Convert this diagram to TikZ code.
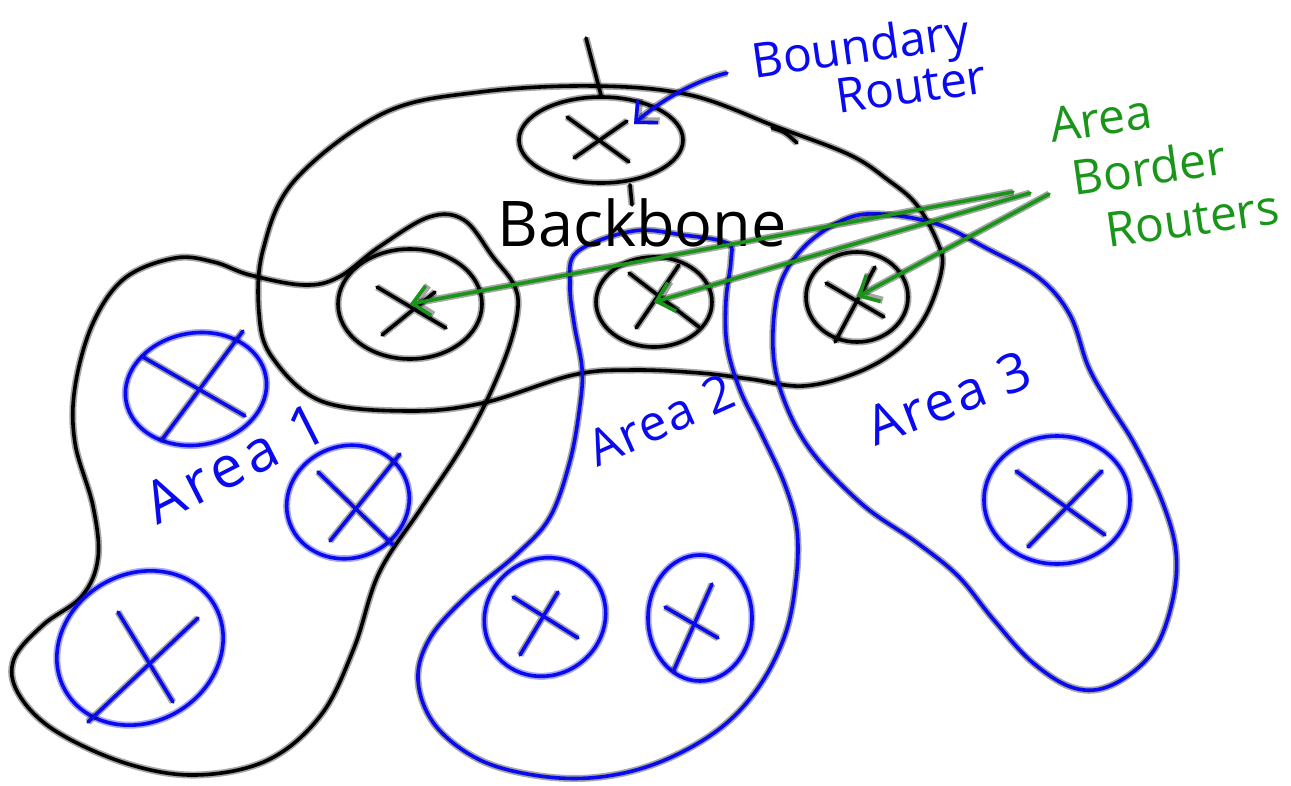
\documentclass[tikz,border=0pt]{standalone}
\usepackage{fontspec}
\setmainfont{Open Sans}
\usetikzlibrary{shapes.geometric,arrows.meta}
\definecolor{penblue}{RGB}{10,10,240}
\definecolor{pengreen}{RGB}{25,150,25}
\begin{document}
\begin{tikzpicture}[x=1pt,y=-1pt,
  pen/.style={line width=3.6pt, line cap=round, line join=round,
    preaction={draw, line width=7pt, opacity=0.35}},
  blackpen/.style={pen, draw=black},
  bluepen/.style={pen, draw=penblue},
  greenpen/.style={pen, draw=pengreen},
  router/.style={ellipse, inner sep=0pt, pen},
  loop/.style={smooth cycle, tension=0.6},
  barb/.style={-{Straight Barb[length=16pt,width=30pt]}}
]
\useasboundingbox (0,0) rectangle (1291,785);
\fill[white] (0,0) rectangle (1291,785);

% ---- loops ----
\draw[blackpen] plot[loop] coordinates {
 (594,86) (690,95) (777,127) (850,155) (888,180) (916,204) (937,241) (942,268)
 (926,315) (898,349) (856,373) (803,386) (750,379) (700,373) (633,370) (573,375)
 (483,403) (407,411) (321,401) (272,357) (259,313) (263,250) (295,180) (384,113) (480,92)};
\draw[blackpen] (772,128) .. controls (785,132) .. (797,143);

\draw[blackpen] plot[loop] coordinates {
 (175,258) (214,262) (250,275) (304,285) (339,277) (379,247) (429,217) (464,220)
 (493,257) (513,283) (518,307) (509,347) (487,400) (460,450) (420,510) (379,573)
 (354,648) (321,715) (268,760) (196,775) (125,763) (54,730) (18,693) (14,659)
 (43,625) (82,596) (98,558) (93,506) (75,443) (75,387) (93,323) (125,278)};

\draw[bluepen] plot[loop] coordinates {
 (577,252) (633,231) (683,235) (727,243) (731,260) (726,300) (727,345) (740,390)
 (762,435) (785,485) (797,530) (796,580) (785,635) (758,688) (718,730) (660,762)
 (600,777) (540,776) (480,760) (435,725) (418,680) (430,638) (467,596) (517,554)
 (550,517) (570,461) (580,405) (582,368) (574,323) (570,285)};

\draw[bluepen] plot[loop] coordinates {
 (880,214) (937,224) (986,248) (1039,278) (1070,315) (1088,366) (1108,402)
 (1135,445) (1162,501) (1176,552) (1172,603) (1152,653) (1112,685) (1074,688)
 (1032,662) (993,619) (958,576) (916,542) (863,505) (812,452) (784,400) (773,349)
 (779,288) (803,248) (843,220)};

% ---- backbone routers ----
\node[router, draw=black, minimum width=164pt, minimum height=86pt] (br) at (601,140) {};
\draw[blackpen] (567,117) -- (629,162) (574,158) -- (627,121);
\node[router, draw=black, minimum width=144pt, minimum height=110pt] (abr1) at (410,304) {};
\draw[blackpen] (377,287) -- (446,328) (382,335) -- (435,292);
\node[router, draw=black, minimum width=116pt, minimum height=90pt] (abr2) at (654,302) {};
\draw[blackpen] (629,273) -- (699,327) (636,328) -- (679,265);
\node[router, draw=black, minimum width=102pt, minimum height=90pt] (abr3) at (857,297) {};
\draw[blackpen] (826,283) -- (884,317) (835,342) -- (875,267);

% ---- area routers ----
\node[router, draw=penblue, minimum width=142pt, minimum height=112pt, rotate=10] (r1a) at (196,389) {};
\draw[bluepen] (143,357) -- (245,416) (161,441) -- (243,331);
\node[router, draw=penblue, minimum width=124pt, minimum height=112pt, rotate=20] (r1b) at (348,502) {};
\draw[bluepen] (318,472) -- (393,545) (330,541) -- (400,454);
\node[router, draw=penblue, minimum width=172pt, minimum height=148pt, rotate=30] (r1c) at (140,648) {};
\draw[bluepen] (118,612) -- (173,702) (198,618) -- (88,722);
\node[router, draw=penblue, minimum width=124pt, minimum height=116pt, rotate=35] (r2a) at (545,617) {};
\draw[bluepen] (513,597) -- (578,638) (520,655) -- (558,592);
\node[router, draw=penblue, minimum width=104pt, minimum height=126pt] (r2b) at (700,618) {};
\draw[bluepen] (665,607) -- (718,638) (673,672) -- (712,584);
\node[router, draw=penblue, minimum width=146pt, minimum height=128pt] (r3) at (1057,500) {};
\draw[bluepen] (1016,471) -- (1105,535) (1028,547) -- (1102,471);

% ---- links ----
\coordinate (uplink) at (586,38);
\draw[blackpen] (uplink) -- (br.north);
\coordinate (kstem) at (632,205);
\draw[blackpen] (br.south) ++(29,0) -- (kstem);

% ---- labels ----
\node[anchor=base west, inner sep=0pt, font=\fontsize{63}{63}\selectfont] (bb) at (497,246) {Backbone};
\node[anchor=north west, inner sep=0pt, align=left, rotate=8, text=penblue,
  font=\fontsize{48}{41}\selectfont] (blabel) at (749,42) {Boundary\\\hspace*{78pt}Router};
\node[anchor=north west, inner sep=0pt, align=left, rotate=8, text=pengreen,
  font=\fontsize{48}{56}\selectfont] (alabel) at (1047,108) {Area\\\hspace*{15pt}Border\\\hspace*{41pt}Routers};
\node[anchor=base west, inner sep=0pt, rotate=27, text=penblue,
  font=\fontsize{58}{58}\selectfont\addfontfeature{LetterSpace=10}] (a1) at (157,526) {Area 1};
\node[anchor=base west, inner sep=0pt, rotate=24, text=penblue,
  font=\fontsize{50}{50}\selectfont\addfontfeature{LetterSpace=3}] (a2) at (597,468) {Area 2};
\node[anchor=base west, inner sep=0pt, rotate=21, text=penblue,
  font=\fontsize{54}{54}\selectfont\addfontfeature{LetterSpace=5}] (a3) at (875,447) {Area 3};

% ---- arrows ----
\coordinate (bsrc) at (727,73);
\coordinate (brtip) at (634,124);
\draw[bluepen, barb] (bsrc) .. controls (690,82) and (655,105) .. (brtip);
\coordinate (g1) at (1013,192);
\coordinate (g2) at (1030,193);
\coordinate (g3) at (1049,194);
\draw[greenpen, barb] (g1) -- (abr1.center);
\draw[greenpen, barb] (g2) -- (abr2.center);
\draw[greenpen, barb] (g3) -- (abr3.center);
\end{tikzpicture}
\end{document}
